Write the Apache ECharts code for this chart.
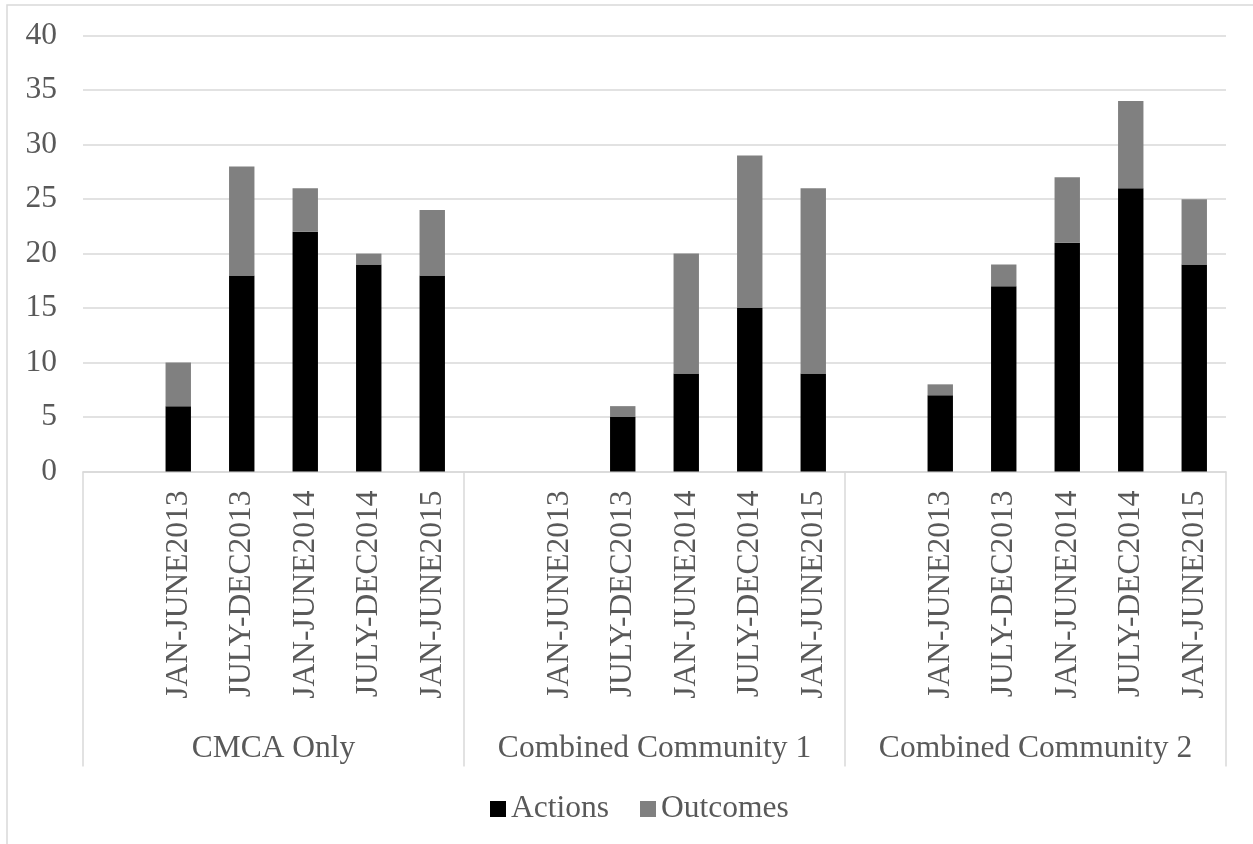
<!DOCTYPE html>
<html>
<head>
<meta charset="utf-8">
<script src="https://cdn.jsdelivr.net/npm/echarts@6/dist/echarts.min.js"></script>
<style>
  html, body { margin: 0; padding: 0; background: #fff; }
  #chart { width: 1253px; height: 844px; }
</style>
</head>
<body>
<div id="chart"></div>
<script>
// Reporting periods shown inside each community group
const periods = ['JAN-JUNE2013', 'JULY-DEC2013', 'JAN-JUNE2014', 'JULY-DEC2014', 'JAN-JUNE2015'];
const groups = ['CMCA Only', 'Combined Community 1', 'Combined Community 2'];

// Counts per period, one array per group
const actionsCMCA = [6, 18, 22, 19, 18];
const outcomesCMCA = [4, 10, 4, 1, 6];
const actionsCC1 = [0, 5, 9, 15, 9];
const outcomesCC1 = [0, 1, 11, 14, 17];
const actionsCC2 = [7, 17, 21, 26, 19];
const outcomesCC2 = [1, 2, 6, 8, 6];

const yTicks = { min: 0, max: 40, interval: 5 };

// Each group starts with an empty slot, followed by its five periods
const actionsByGroup = [actionsCMCA, actionsCC1, actionsCC2];
const outcomesByGroup = [outcomesCMCA, outcomesCC1, outcomesCC2];
const categories = [];
const actions = [];
const outcomes = [];
groups.forEach((g, gi) => {
  categories.push('');
  actions.push('-');
  outcomes.push('-');
  periods.forEach((p, pi) => {
    categories.push(p);
    actions.push(actionsByGroup[gi][pi]);
    outcomes.push(outcomesByGroup[gi][pi]);
  });
});

const FONT = '"Liberation Serif", "Times New Roman", serif';
const TEXT = '#595959';
const LINE = '#d9d9d9';
const FS = 31.5;

const chart = echarts.init(document.getElementById('chart'), null, { renderer: 'canvas' });
chart.setOption({
  animation: false,
  backgroundColor: '#fff',
  textStyle: { fontFamily: FONT },
  graphic: [{
    type: 'rect',
    shape: { x: 7, y: 5, width: 1300, height: 900 },
    style: { fill: 'none', stroke: LINE, lineWidth: 1.5 },
    silent: true
  }],
  grid: { left: 83, right: 27, top: 35.7, bottom: 372.5 },
  legend: {
    data: ['Actions', 'Outcomes'],
    left: 485,
    top: 788,
    icon: 'rect',
    itemWidth: 16,
    itemHeight: 16,
    itemGap: 31,
    textStyle: { fontFamily: FONT, fontSize: FS, color: TEXT }
  },
  xAxis: [{
    type: 'category',
    data: categories,
    axisLine: { show: true, lineStyle: { color: LINE, width: 1.5 } },
    axisTick: { show: false },
    axisLabel: {
      interval: 0,
      rotate: 90,
      margin: 19,
      fontFamily: FONT,
      fontSize: FS,
      color: TEXT
    }
  }, {
    type: 'category',
    data: groups,
    position: 'bottom',
    axisLine: { show: false },
    axisTick: { show: true, length: 295, lineStyle: { color: LINE, width: 1.5 } },
    axisLabel: {
      interval: 0,
      margin: 261,
      fontFamily: FONT,
      fontSize: FS,
      color: TEXT
    }
  }],
  yAxis: {
    type: 'value',
    min: yTicks.min,
    max: yTicks.max,
    interval: yTicks.interval,
    axisLine: { show: false },
    axisTick: { show: false },
    splitLine: { lineStyle: { color: LINE, width: 1.5 } },
    axisLabel: { margin: 26, fontFamily: FONT, fontSize: FS, color: TEXT }
  },
  series: [{
    name: 'Actions',
    type: 'bar',
    stack: 'total',
    xAxisIndex: 0,
    barWidth: '40%',
    itemStyle: { color: '#000000' },
    data: actions
  }, {
    name: 'Outcomes',
    type: 'bar',
    stack: 'total',
    xAxisIndex: 0,
    barWidth: '40%',
    itemStyle: { color: '#808080' },
    data: outcomes
  }]
});
</script>
</body>
</html>
